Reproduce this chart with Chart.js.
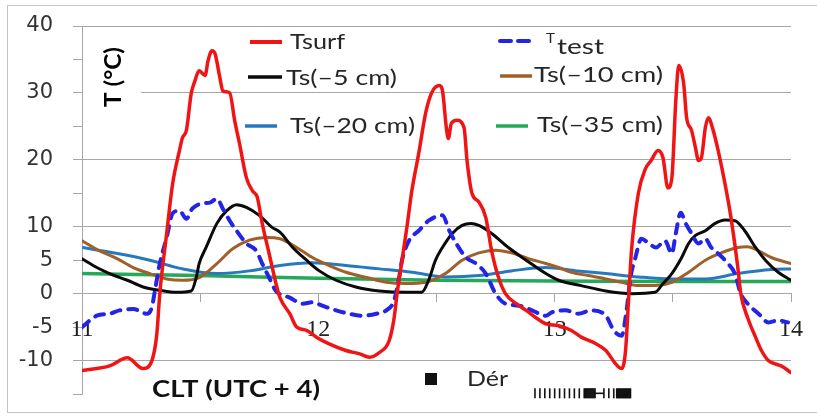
<!DOCTYPE html>
<html>
<head>
<meta charset="utf-8">
<script src="https://cdn.jsdelivr.net/npm/chart.js@4/dist/chart.umd.min.js"></script>
<style>
  html, body { margin: 0; padding: 0; background: #fff; }
  #wrap { width: 817px; height: 416px; }
</style>
</head>
<body>
<div id="wrap"><canvas id="c" width="817" height="416"></canvas></div>
<script>
// Time axis: hours since 00:00 local time (CLT, UTC+4) on day 11.
const dayLabels = ['11', '12', '13', '14'];
const yLabelsShown = [40, 30, 20, 10, 5, 0, -5, -10];

// Surface temperature [hour, °C]
const tsurf = [
  [0,-11.5],[2.8,-10.8],[4.6,-9.6],[6.2,-11.2],[7.1,-10],[7.6,-6],[7.9,0],[8.6,9],[9.2,16.4],[9.9,21.4],
  [10.2,23.3],[10.6,24.4],[11.1,30],[11.4,31.5],[11.9,33.3],[12.5,32.6],[12.8,34.8],[13.2,36.3],[13.5,35.9],
  [14.0,32.3],[14.3,30.3],[15.0,30],[15.5,25.9],[16.0,22.4],[16.7,17.3],[17.3,15.4],[17.8,14.4],[18.3,10.5],
  [19.0,6],[19.7,1.5],[20.1,-0.6],[21.1,-3],[21.8,-5],[22.8,-5.5],[23.8,-6.5],[25.1,-7.5],[26.8,-8.5],
  [28.2,-9],[29.2,-9.5],[30.2,-8.8],[31.2,-7],[31.7,-3.6],[32.0,0],[32.5,5],[33.0,10],[33.5,15.4],[34.2,21],
  [34.9,27],[35.5,30],[36.3,31.1],[36.6,30.4],[37.0,24.8],[37.2,23.2],[37.5,25.4],[38.1,25.9],[38.8,24.8],
  [39.1,19.9],[39.6,15],[40.3,13.7],[41.0,11.4],[41.6,6.4],[42.3,2.4],[43.0,0],[44.1,-1.5],[45.1,-2.5],
  [46.1,-3.6],[47.1,-4.5],[48.4,-4.8],[49.7,-5.5],[50.7,-6.5],[52.2,-7.5],[53.2,-8.5],[54.2,-10.5],[54.8,-11.2],
  [55.2,-8.5],[55.5,-1],[55.8,6.4],[56.5,15],[57.2,18.6],[57.8,19.9],[58.5,21.4],[59.0,20.3],[59.5,15.8],
  [59.9,17.3],[60.3,28.8],[60.6,34.1],[61.1,31.4],[61.4,26.3],[61.9,24.4],[62.3,21.8],[62.6,19.9],[62.9,20.3],
  [63.3,24.8],[63.6,26.3],[64.1,24.4],[64.6,21.4],[65.3,16.4],[65.9,11.4],[66.6,3.9],[66.9,0],[67.6,-3.6],
  [68.4,-6.5],[69.0,-8.5],[69.7,-10],[70.4,-10.5],[71.0,-10.8],[72.0,-11.8]
];

// Test sensor temperature [hour, °C]
const ttest = [
  [0,-5],[1.5,-3.3],[2.8,-3],[3.8,-2.5],[5.2,-2.3],[6.6,-3],[7.1,-2],[7.4,0.4],[7.9,4.5],[8.6,8.4],
  [9.2,12],[9.9,12.4],[10.6,11.2],[11.2,12.7],[12.3,13.5],[13.0,13.6],[13.7,14.2],[14.3,12.7],[15.0,10.9],
  [15.7,9.4],[16.7,7.5],[17.7,6.4],[18.3,4.5],[19.0,2.4],[19.7,0.4],[21.1,-0.6],[22.4,-1.5],[23.4,-1.3],
  [24.4,-1.8],[25.8,-2.5],[27.1,-3],[28.5,-3.3],[29.9,-3],[30.9,-2.5],[31.7,-1],[32.2,2.4],[32.5,5],
  [33.2,7.9],[34.2,9.4],[35.2,10.9],[36.6,11.7],[37.3,9.4],[38.0,7.5],[39.0,5.4],[40.0,4.5],[41.0,3],
  [42.0,0],[43.0,-1.5],[44.4,-1.8],[45.7,-2.5],[47.1,-3.3],[47.7,-2.8],[49.1,-2.5],[50.4,-3],[51.7,-2.5],
  [53.2,-3.3],[54.0,-5.5],[54.8,-6.3],[55.3,-2.5],[55.7,2.4],[56.2,5.4],[56.8,8.2],[57.5,7.6],[58.3,6.9],
  [59.2,7.9],[59.9,6],[60.3,9],[60.8,12.1],[61.3,10.5],[61.9,9],[62.6,7.5],[63.3,8.2],[63.9,6.9],[64.6,6],
  [65.6,4.5],[66.3,3],[66.9,0],[67.6,-1.5],[68.7,-3],[69.7,-4.3],[70.7,-4],[71.7,-4.3]
];

// Soil temperature at -5 cm
const ts5 = [
  [0,5.2],[1.5,3.9],[2.8,3],[4.6,2],[6.2,1],[7.9,0.5],[9.6,0.2],[11.1,0.4],[11.6,2.4],[11.9,4.5],
  [12.6,6.9],[13.7,10.5],[14.7,12.4],[15.7,13.3],[16.7,12.9],[18.0,11.7],[19.3,9.9],[20.1,9.2],[21.4,6.9],
  [22.8,5],[24.1,3.4],[25.8,2],[27.8,1],[30.2,0.4],[32.9,0.2],[34.5,0.2],[35.2,2],[35.9,5],[36.6,6.9],
  [37.6,9],[38.6,10.2],[39.5,10.5],[40.3,10.2],[41.6,9],[43.3,6.9],[45.1,5],[47.1,3],[48.4,2],[50.7,1.2],
  [53.2,0.4],[55.8,0],[58.2,0.2],[59.0,1.5],[59.9,3],[60.9,5.4],[61.6,7.5],[62.3,8.7],[63.3,9.4],[64.3,10.5],
  [65.3,11],[66.3,10.9],[67.3,9.4],[68.4,6.9],[69.4,5],[70.7,3.2],[72,2]
];

// Soil temperature at -10 cm
const ts10 = [
  [0,7.9],[1.8,6.4],[3.6,5.2],[5.2,3.9],[6.9,3],[8.6,2.2],[10.2,2],[11.9,2.4],[13.7,4.5],[15.3,6.7],
  [17.0,8],[18.7,8.4],[20.1,8.2],[21.8,6.9],[23.4,5.4],[25.1,4.2],[26.8,3.2],[28.9,2.4],[30.9,1.7],
  [32.9,1.5],[34.9,1.7],[36.9,3],[38.6,5],[40.3,6.1],[42.0,6.5],[43.6,6.1],[45.4,5.2],[47.1,4.5],[48.4,3.9],
  [49.7,3.2],[51.4,2.7],[53.2,2.2],[54.8,1.7],[56.5,1.2],[58.2,1.2],[59.9,1.7],[61.6,3.2],[63.3,5],
  [64.9,6.1],[66.6,6.9],[67.6,7],[68.7,6.4],[70.0,5.4],[72,4.5]
];

// Soil temperature at -20 cm
const ts20 = [
  [0,6.9],[3.6,6],[6.9,5],[10.2,3.7],[13.7,3],[17.0,3.4],[20.1,4.2],[23.4,4.6],[26.8,4.2],[30.2,3.7],
  [33.5,3.2],[36.9,2.5],[40.3,2.7],[43.6,3.4],[47.1,3.9],[50.3,3.4],[53.2,3],[56.5,2.5],[59.9,2.2],
  [63.3,2.2],[66.6,3],[70.0,3.6],[72,3.7]
];

// Soil temperature at -35 cm
const ts35 = [
  [0,3],[12,2.7],[24,2.3],[36,2.0],[48,1.9],[60,1.8],[72,1.8]
];

// Hoar frost ("Dér") observations, marked along the bottom of the plot
const der = [
  [46.0,-14.9],[46.5,-14.9],[47.0,-14.9],[47.5,-14.9],[48.0,-14.9],[48.5,-14.9],[49.0,-14.9],[49.5,-14.9],
  [50.0,-14.9],[50.5,-14.9],[51.0,-14.9],[51.1,-14.9],[51.2,-14.9],[51.3,-14.9],[51.4,-14.9],[51.5,-14.9],
  [51.6,-14.9],[51.7,-14.9],[51.8,-14.9],[51.9,-14.9],[52.0,-14.9],[52.1,-14.9],[52.5,-14.9],[53.0,-14.9],
  [53.5,-14.9],[54.0,-14.9],[54.3,-14.9],[54.4,-14.9],[54.5,-14.9],[54.6,-14.9],[54.7,-14.9],[54.8,-14.9],
  [54.9,-14.9],[55.0,-14.9],[55.1,-14.9],[55.2,-14.9],[55.3,-14.9],[55.4,-14.9],[55.5,-14.9],[55.6,-14.9],
  [55.7,-14.9]
];
// Observation gaps drawn as a short dash instead of a bar
const derGapHours = [52.5];

const gridColor = '#a6a6a6';
const toPoints = arr => arr.map(p => ({ x: p[0], y: p[1] }));

function lineSet(label, arr, color, width, extra) {
  return Object.assign({
    label, data: toPoints(arr), borderColor: color, backgroundColor: color,
    borderWidth: width, pointRadius: 0, fill: false, tension: 0.3,
    cubicInterpolationMode: 'monotone', borderJoinStyle: 'round', borderCapStyle: 'round'
  }, extra || {});
}

const datasets = [
  lineSet('Tsurf', tsurf, '#f01414', 3.5),
  lineSet('Ttest', ttest, '#2424e6', 4, { borderDash: [9, 8] }),
  lineSet('Ts(–5 cm)', ts5, '#0a0a0a', 3),
  lineSet('Ts(–10 cm)', ts10, '#a0602a', 3),
  lineSet('Ts(–20 cm)', ts20, '#2878be', 3),
  lineSet('Ts(–35 cm)', ts35, '#26a85a', 3.5),
  {
    label: 'Dér', data: toPoints(der), showLine: false, clip: false,
    borderColor: '#111', backgroundColor: '#111',
    pointStyle: 'line', pointRadius: 5, pointBorderWidth: 1.6,
    pointRotation: ctx => (ctx.raw && derGapHours.includes(ctx.raw.x)) ? 0 : 90
  }
];

// Draw a single line of text stretched to a given width
function fitText(c, text, x, y, font, color, width) {
  c.save();
  c.font = font; c.fillStyle = color;
  c.textBaseline = 'middle'; c.textAlign = 'left';
  const w = c.measureText(text).width;
  c.translate(x, y);
  if (width) c.scale(width / w, 1);
  c.fillText(text, 0, 0);
  c.restore();
}

function sample(c, x0, x1, y, color, width, dash) {
  c.save();
  c.strokeStyle = color; c.lineWidth = width; c.lineCap = dash ? 'round' : 'butt';
  c.setLineDash(dash || []);
  c.beginPath(); c.moveTo(x0, y); c.lineTo(x1, y); c.stroke();
  c.restore();
}

const legendFont = '22px Lato';
const textColor = '#262626';

const extras = {
  id: 'extras',
  beforeDraw(chart) {
    const c = chart.ctx;
    c.save();
    c.fillStyle = '#fff';
    c.fillRect(0, 0, chart.width, chart.height);
    c.strokeStyle = '#c4c4c4'; c.lineWidth = 1;
    c.strokeRect(7.5, 5.5, chart.width + 10, 407);
    c.restore();
  },
  beforeDatasetsDraw(chart) {
    const c = chart.ctx;
    c.save();
    c.fillStyle = '#fff';
    c.fillRect(83, 44, 58, 68);
    c.translate(114, 77);
    c.rotate(-Math.PI / 2);
    c.font = 'bold 22px Lato';
    c.fillStyle = '#000';
    c.textBaseline = 'middle'; c.textAlign = 'left';
    const t = 'T (°C)';
    const w = c.measureText(t).width;
    c.scale(60 / w, 1);
    c.fillText(t, -w / 2, 0);
    c.restore();
  },
  afterDraw(chart) {
    const c = chart.ctx;
    // series key
    sample(c, 250, 282, 42, '#f01414', 4);
    fitText(c, 'Tsurf', 290, 42, legendFont, textColor, 55);
    sample(c, 500, 532, 41, '#2424e6', 4, [11, 7]);
    fitText(c, 'T', 546, 38, '14px Lato', textColor, 9);
    fitText(c, 'test', 557, 47, legendFont, textColor, 47);

    sample(c, 248, 282, 77, '#0a0a0a', 3.5);
    fitText(c, 'Ts(–5 cm)', 286, 78, legendFont, textColor, 111);
    sample(c, 500, 532, 76, '#a0602a', 3.5);
    fitText(c, 'Ts(–10 cm)', 534, 75, legendFont, textColor, 129);

    sample(c, 245, 277, 126, '#2878be', 3.5);
    fitText(c, 'Ts(–20 cm)', 290, 126, legendFont, textColor, 125);
    sample(c, 496, 528, 126, '#26a85a', 3.5);
    fitText(c, 'Ts(–35 cm)', 537, 125, legendFont, textColor, 126);

    // axis caption and frost key
    fitText(c, 'CLT (UTC + 4)', 152, 390, 'bold 22px Lato', '#111', 168);
    c.save(); c.fillStyle = '#111'; c.fillRect(425, 373, 12, 12); c.restore();
    fitText(c, 'Dér', 467, 379, '21px Lato', textColor, 41);
  }
};

new Chart(document.getElementById('c'), {
  type: 'line',
  data: { datasets },
  options: {
    responsive: false,
    animation: false,
    events: [],
    layout: { padding: { left: 0, top: 26, right: 24, bottom: 22 } },
    plugins: { legend: { display: false }, tooltip: { enabled: false } },
    scales: {
      x: {
        type: 'linear', min: 0, max: 72,
        position: { y: 0 },
        border: { display: true, color: gridColor, width: 1 },
        grid: { drawOnChartArea: false, drawTicks: true, tickLength: 8, color: gridColor },
        ticks: {
          stepSize: 12, autoSkip: false, maxRotation: 0, padding: 14,
          font: { family: 'Liberation Serif', size: 24 }, color: '#222',
          callback: v => (v % 24 === 0) ? dayLabels[v / 24] : ''
        },
        // the axis sits inside the plot at y = 0, so it takes no layout space
        afterFit(scale) { scale.height = 0; scale.paddingTop = 0; scale.paddingBottom = 0; }
      },
      y: {
        min: -15, max: 40,
        border: { display: true, color: gridColor, width: 1 },
        grid: {
          color: ctx => (ctx.tick && ctx.tick.value % 10 === 0) ? gridColor : 'rgba(0,0,0,0)',
          tickColor: gridColor, tickLength: 9, drawTicks: true
        },
        ticks: {
          stepSize: 5, autoSkip: false, padding: 20,
          font: { family: 'DejaVu Sans', size: 21 }, color: '#333',
          callback: v => yLabelsShown.includes(v) ? String(v) : ''
        },
        afterFit(scale) { scale.width = 82; scale.paddingTop = 0; scale.paddingBottom = 0; }
      }
    }
  },
  plugins: [extras]
});
</script>
</body>
</html>
